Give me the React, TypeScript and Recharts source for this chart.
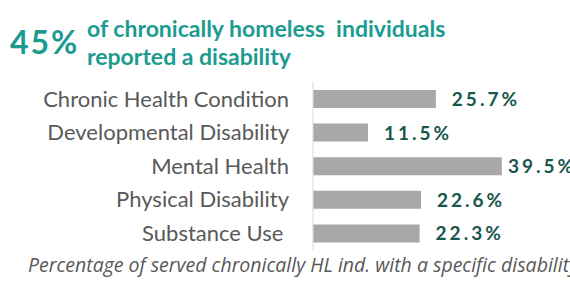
import React from 'react';
import { BarChart, Bar, XAxis, YAxis, LabelList } from 'recharts';

const categories = [
  'Chronic Health Condition',
  'Developmental Disability',
  'Mental Health',
  'Physical Disability',
  'Substance Use\u00a0',
];
const shares = [25.7, 11.5, 39.5, 22.6, 22.3];

const chartData = categories.map((name, i) => ({ name, value: shares[i] }));

const TEAL = '#1c9b91';
const DARK_TEAL = '#18574d';
const GREY_TEXT = '#595959';

const ValueLabel = (props: any) => {
  const { x, y, width, height, value } = props;
  const tx = Math.min(x + width + 16, 508);
  return (
    <text
      x={tx}
      y={y + height / 2}
      dy={7}
      fill={DARK_TEAL}
      fontSize={19}
      fontWeight={700}
      letterSpacing={3}
      fontFamily="Lato, sans-serif"
    >
      {`${value}%`}
    </text>
  );
};

export default function App() {
  return (
    <div style={{ position: 'absolute', left: 0, top: 0, width: 570, height: 282, background: '#fff' }}>
      <svg width={570} height={282} style={{ position: 'absolute', left: 0, top: 0 }}>
        <text x={10} y={54} fill={TEAL} fontSize={32} fontWeight={700} letterSpacing={2} fontFamily="Lato, sans-serif">
          45%
        </text>
        <text x={87} y={37} fill={TEAL} fontSize={23} fontWeight={700} fontFamily="Lato, sans-serif" style={{ whiteSpace: 'pre' }}>
          of chronically homeless  individuals
        </text>
        <text x={87} y={65} fill={TEAL} fontSize={23} fontWeight={700} fontFamily="Lato, sans-serif">
          reported a disability
        </text>
        <text x={28} y={272} fill={GREY_TEXT} fontSize={19.5} fontStyle="italic" fontFamily="'Open Sans', sans-serif">
          Percentage of served chronically HL ind. with a specific disability
        </text>
      </svg>
      <div style={{ position: 'absolute', left: 0, top: 0 }}>
        <BarChart
          width={570}
          height={282}
          data={chartData}
          layout="vertical"
          barSize={18}
          margin={{ top: 82, right: 18, left: 0, bottom: 32 }}
        >
          <XAxis type="number" domain={[0, 50]} hide />
          <YAxis
            type="category"
            dataKey="name"
            width={313}
            tickLine={false}
            tickSize={0}
            tickMargin={24}
            axisLine={{ stroke: '#d9d9d9' }}
            tick={{ fill: GREY_TEXT, fontSize: 22, fontFamily: 'Lato, sans-serif' }}
          />
          <Bar dataKey="value" fill="#a8a8a8" isAnimationActive={false}>
            <LabelList dataKey="value" content={ValueLabel} />
          </Bar>
        </BarChart>
      </div>
    </div>
  );
}
